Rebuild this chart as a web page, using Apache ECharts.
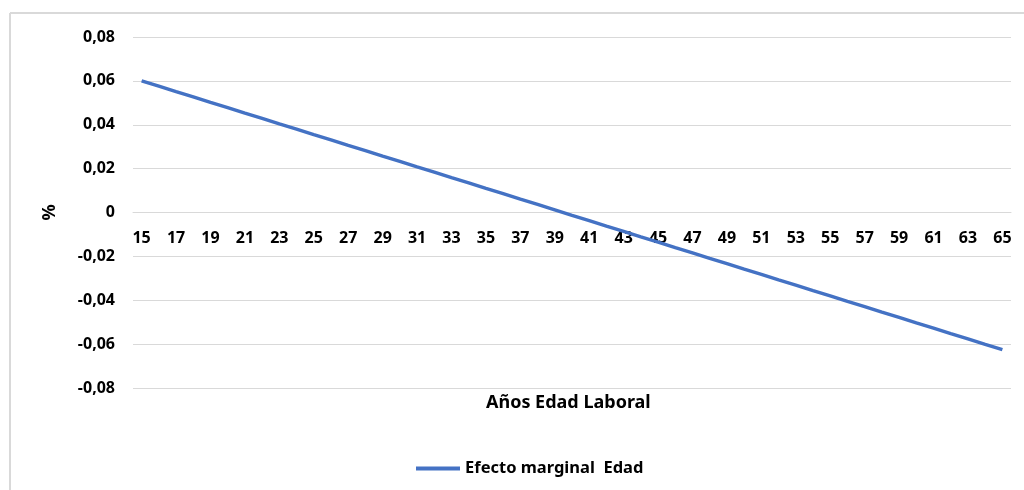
<!DOCTYPE html>
<html>
<head>
<meta charset="utf-8">
<script src="https://cdn.jsdelivr.net/npm/echarts@6/dist/echarts.min.js"></script>
<style>html,body{margin:0;padding:0;background:#fff;}#c{width:1024px;height:490px;}</style>
</head>
<body>
<div id="c"></div>
<script>
const ages = [15,16,17,18,19,20,21,22,23,24,25,26,27,28,29,30,31,32,33,34,35,36,37,38,39,40,41,42,43,44,45,46,47,48,49,50,51,52,53,54,55,56,57,58,59,60,61,62,63,64,65];
const efectoMarginal = [0.0600,0.0576,0.0551,0.0527,0.0502,0.0478,0.0453,0.0429,0.0404,0.0380,0.0355,0.0331,0.0306,0.0282,0.0257,0.0233,0.0208,0.0184,0.0159,0.0135,0.0110,0.0086,0.0061,0.0037,0.0012,-0.0013,-0.0037,-0.0062,-0.0086,-0.0111,-0.0135,-0.0160,-0.0184,-0.0209,-0.0233,-0.0258,-0.0282,-0.0307,-0.0331,-0.0356,-0.0380,-0.0405,-0.0429,-0.0454,-0.0478,-0.0503,-0.0527,-0.0552,-0.0576,-0.0601,-0.0625];
const seriesName = 'Efecto marginal  Edad';
const xTitle = 'Años Edad Laboral';
const yTitle = '%';

const FONT = '"Noto Sans", "Open Sans", sans-serif';
const chart = echarts.init(document.getElementById('c'), null, {renderer: 'canvas'});
chart.setOption({
  animation: false,
  backgroundColor: '#ffffff',
  grid: {left: 133, right: 13, top: 37, bottom: 102, containLabel: false},
  xAxis: {
    type: 'category',
    data: ages.map(String),
    boundaryGap: true,
    position: 'bottom',
    offset: -176,
    axisLine: {onZero: false, lineStyle: {color: '#d9d9d9', width: 1}},
    axisTick: {show: false},
    axisLabel: {interval: 1, color: '#000', fontWeight: 'bold', fontSize: 16, fontFamily: FONT, margin: 18}
  },
  yAxis: {
    type: 'value',
    min: -0.08, max: 0.08, interval: 0.02,
    name: yTitle, nameLocation: 'middle', nameGap: 74, nameRotate: 90,
    nameTextStyle: {color: '#000', fontWeight: 'bold', fontSize: 18, fontFamily: FONT},
    axisLine: {show: false},
    axisTick: {show: false},
    splitLine: {lineStyle: {color: '#d9d9d9', width: 1}},
    axisLabel: {
      color: '#000', fontWeight: 'bold', fontSize: 16, fontFamily: FONT, margin: 18,
      formatter: v => {
        const r = Math.round(v * 100) / 100;
        if (r === 0) return '0';
        return r.toFixed(2).replace('.', ',');
      }
    }
  },
  legend: {
    left: 411, top: 455,
    icon: 'rect', itemWidth: 44, itemHeight: 4, itemGap: 5,
    textStyle: {color: '#000', fontWeight: 'bold', fontSize: 16.5, fontFamily: FONT},
    data: [seriesName]
  },
  graphic: [
    {type: 'text', left: 486, top: 394, style: {text: xTitle, fill: '#000', font: 'bold 18px ' + FONT}},
    {type: 'line', shape: {x1: 10, y1: 13, x2: 1024, y2: 13}, style: {stroke: '#d9d9d9', lineWidth: 2}},
    {type: 'line', shape: {x1: 10, y1: 13, x2: 10, y2: 490}, style: {stroke: '#d9d9d9', lineWidth: 2}}
  ],
  series: [{
    name: seriesName,
    type: 'line',
    data: efectoMarginal,
    symbol: 'none',
    lineStyle: {color: '#4472c4', width: 3.5},
    itemStyle: {color: '#4472c4'}
  }]
});
</script>
</body>
</html>
